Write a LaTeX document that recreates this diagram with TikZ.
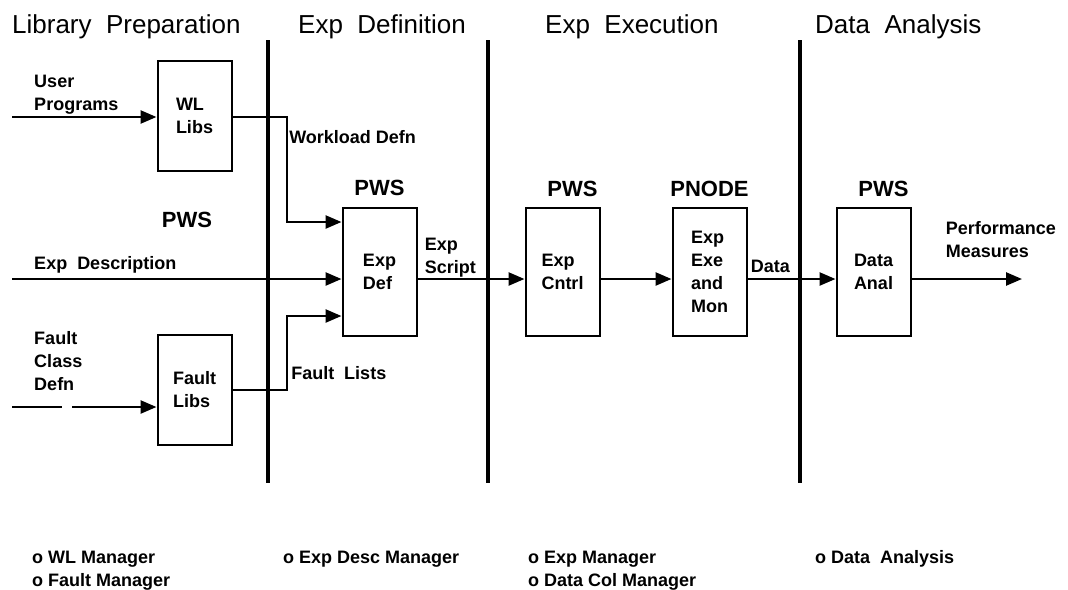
\documentclass[tikz,border=0pt]{standalone}
\usepackage{fontspec}
\setmainfont{Liberation Sans}
\usetikzlibrary{arrows.meta}

\begin{document}
\begin{tikzpicture}[
    x=1pt,
    y=-1pt,
    box/.style={
        draw,
        line width=2pt,
        minimum width=74pt,
        minimum height=128pt,
        align=left,
        inner sep=1pt,
        font=\bfseries\fontsize{18}{23}\selectfont
    },
    libbox/.style={
        box,
        minimum height=110pt
    },
    arrow/.style={
        -{Triangle[length=16pt,width=13pt]},
        line width=2.5pt
    },
    divider/.style={
        line width=4pt
    },
    heading/.style={
        font=\fontsize{26}{30}\selectfont,
        inner sep=0pt,
        anchor=base west
    },
    host/.style={
        font=\bfseries\fontsize{22}{26}\selectfont,
        inner sep=0pt
    },
    tag/.style={
        font=\bfseries\fontsize{18}{23}\selectfont,
        inner sep=1pt,
        align=left
    },
    item/.style={
        font=\bfseries\fontsize{18}{23}\selectfont,
        inner sep=0pt,
        anchor=base west
    }
]
\useasboundingbox (0,0) rectangle (1068,589);

% Phases
\node [heading] (hlib) at (12,33) {Library\ \ Preparation};
\node [heading] (hdef) at (298,33) {Exp\ \ Definition};
\node [heading] (hexe) at (545,33) {Exp\ \ Execution};
\node [heading] (hana) at (815,33) {Data\ \ Analysis};

\draw [divider] (268,40) -- (268,483);
\draw [divider] (488,40) -- (488,483);
\draw [divider] (800,40) -- (800,483);

% Boxes
\node [libbox] (wl) at (194.5,116) {WL\\Libs};
\node [libbox, below of=wl, node distance=274pt] (fault) {Fault\\Libs};
\node [box] (expdef) at (379.5,271.5) {Exp\\Def};
\node [box, right of=expdef, node distance=183pt] (cntrl) {Exp\\Cntrl};
\node [box, right of=cntrl, node distance=147pt] (exe) {Exp\\Exe\\and\\Mon};
\node [box, right of=exe, node distance=164pt] (anal) {Data\\Anal};

% Hosts
\node [host] (pwslib) at (187,220) {PWS};
\node [host, above of=expdef, node distance=84pt] (pwsdef) {PWS};
\node [host, above of=cntrl, node distance=83pt, xshift=10pt] (pwscntrl) {PWS};
\node [host, above of=exe, node distance=83pt] (pnode) {PNODE};
\node [host, above of=anal, node distance=83pt, xshift=10pt] (pwsanal) {PWS};

% Flows
\coordinate (userin) at (12,117);
\coordinate (descin) at (12,279);
\coordinate (faultin) at (12,407);
\coordinate (wlturn) at (287,222);
\coordinate (faultturn) at (287,316);
\coordinate (perfout) at (1022,279);

\draw [arrow] (userin) -- node[tag, pos=0, anchor=south west, xshift=20pt] {User\\Programs} (userin -| wl.west);
\draw [arrow] (wl.east |- userin) -| node[tag, pos=0.5, anchor=north west, yshift=-11pt] {Workload Defn} (wlturn) -- (wlturn -| expdef.west);
\draw [arrow] (descin) -- node[tag, pos=0, anchor=south west, xshift=20pt, yshift=4pt] {Exp\ \ Description} (descin -| expdef.west);
\draw [arrow, dash pattern=on 50pt off 10pt on 400pt] (faultin) -- node[tag, pos=0, anchor=south west, xshift=20pt, yshift=14pt] {Fault\\Class\\Defn} (faultin -| fault.west);
\draw [arrow] (fault.east) -| node[tag, pos=0.5, anchor=south west, xshift=2pt, yshift=8pt] {Fault\ \ Lists} (faultturn) -- (faultturn -| expdef.west);
\draw [arrow] (expdef.east |- descin) -- node[tag, pos=0, anchor=south west, xshift=5pt] {Exp\\Script} (cntrl.west |- descin);
\draw [arrow] (cntrl.east |- descin) -- (exe.west |- descin);
\draw [arrow] (exe.east |- descin) -- node[tag, pos=0, anchor=south west, xshift=1pt, yshift=4pt] {Data} (anal.west |- descin);
\draw [arrow] (anal.east |- descin) -- node[tag, pos=0, anchor=south west, xshift=32pt, yshift=19pt] {Performance\\Measures} (perfout);

% Managers
\node [item] (wlmgr) at (32,563) {o WL Manager};
\node [item] (faultmgr) at (32,586) {o Fault Manager};
\node [item] (descmgr) at (283,563) {o Exp Desc Manager};
\node [item] (expmgr) at (528,563) {o Exp Manager};
\node [item] (colmgr) at (528,586) {o Data Col Manager};
\node [item] (anamgr) at (815,563) {o Data\ \ Analysis};

\end{tikzpicture}
\end{document}
